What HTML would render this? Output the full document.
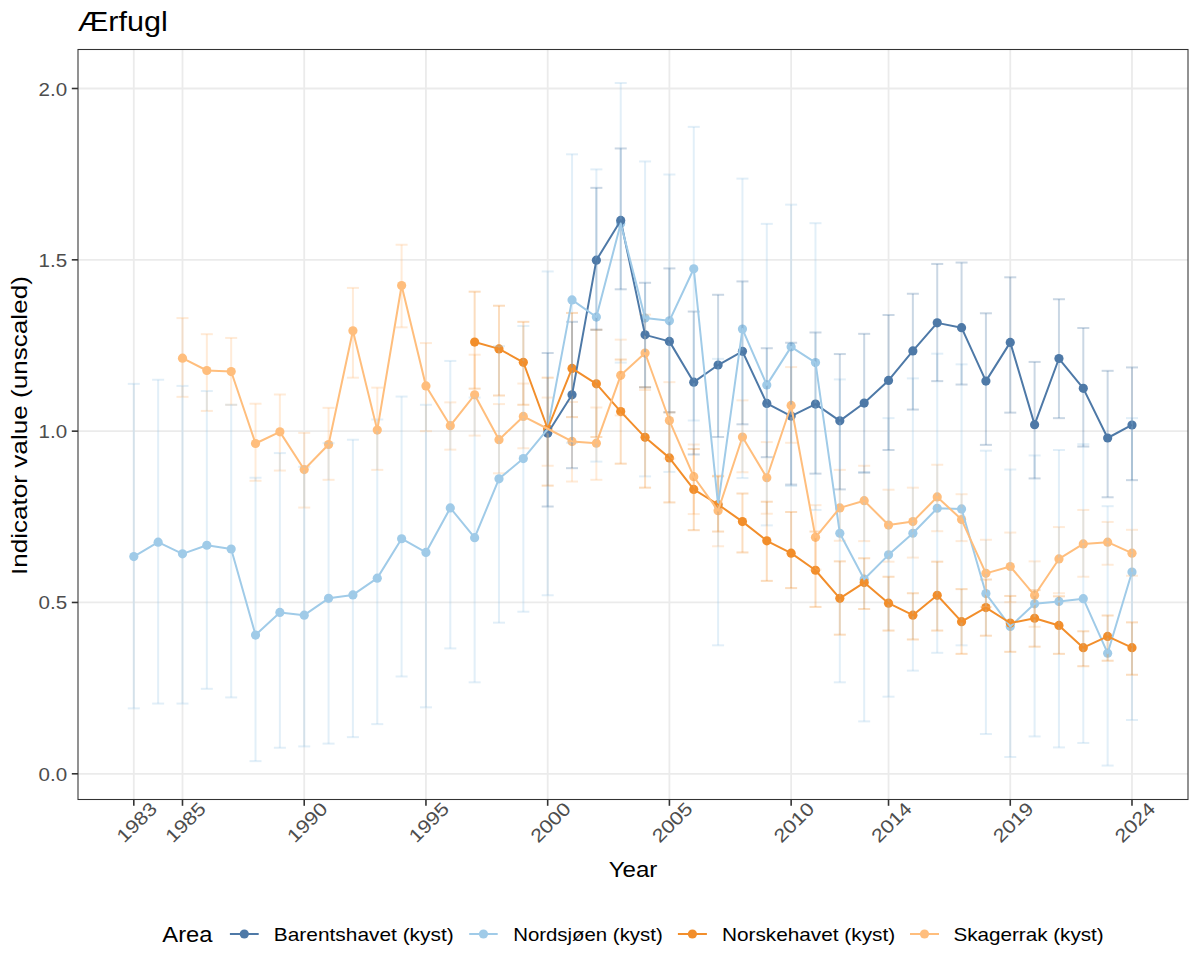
<!DOCTYPE html>
<html><head><meta charset="utf-8"><title>Ærfugl</title>
<style>
html,body{margin:0;padding:0;background:#fff;}
body{width:1200px;height:975px;overflow:hidden;}
svg{display:block;font-family:"Liberation Sans",sans-serif;}
</style></head><body>
<svg width="1200" height="975" viewBox="0 0 1200 975">
<rect x="0" y="0" width="1200" height="975" fill="#fff"/>
<g stroke="#EBEBEB" stroke-width="1.8" fill="none">
<line x1="78" y1="773.8" x2="1188" y2="773.8"/>
<line x1="78" y1="602.47" x2="1188" y2="602.47"/>
<line x1="78" y1="431.15" x2="1188" y2="431.15"/>
<line x1="78" y1="259.83" x2="1188" y2="259.83"/>
<line x1="78" y1="88.5" x2="1188" y2="88.5"/>
<line x1="133.8" y1="49.5" x2="133.8" y2="799.5"/>
<line x1="182.49" y1="49.5" x2="182.49" y2="799.5"/>
<line x1="304.22" y1="49.5" x2="304.22" y2="799.5"/>
<line x1="425.95" y1="49.5" x2="425.95" y2="799.5"/>
<line x1="547.68" y1="49.5" x2="547.68" y2="799.5"/>
<line x1="669.41" y1="49.5" x2="669.41" y2="799.5"/>
<line x1="791.14" y1="49.5" x2="791.14" y2="799.5"/>
<line x1="888.53" y1="49.5" x2="888.53" y2="799.5"/>
<line x1="1010.26" y1="49.5" x2="1010.26" y2="799.5"/>
<line x1="1131.99" y1="49.5" x2="1131.99" y2="799.5"/>
</g>
<g fill="#FFBE7D"><circle cx="182.49" cy="358.17" r="4.6"/><circle cx="206.84" cy="370.5" r="4.6"/><circle cx="231.18" cy="371.53" r="4.6"/><circle cx="255.53" cy="443.49" r="4.6"/><circle cx="279.88" cy="431.84" r="4.6"/><circle cx="304.22" cy="469.53" r="4.6"/><circle cx="328.57" cy="444.51" r="4.6"/><circle cx="352.91" cy="330.75" r="4.6"/><circle cx="377.26" cy="430.12" r="4.6"/><circle cx="401.61" cy="285.52" r="4.6"/><circle cx="425.95" cy="385.92" r="4.6"/><circle cx="450.3" cy="425.67" r="4.6"/><circle cx="474.64" cy="394.83" r="4.6"/><circle cx="498.99" cy="439.72" r="4.6"/><circle cx="523.34" cy="416.42" r="4.6"/><circle cx="547.68" cy="428.75" r="4.6"/><circle cx="572.03" cy="441.43" r="4.6"/><circle cx="596.37" cy="443.14" r="4.6"/><circle cx="620.72" cy="375.3" r="4.6"/><circle cx="645.07" cy="353.03" r="4.6"/><circle cx="669.41" cy="420.53" r="4.6"/><circle cx="693.76" cy="476.72" r="4.6"/><circle cx="718.1" cy="510.64" r="4.6"/><circle cx="742.45" cy="436.98" r="4.6"/><circle cx="766.8" cy="477.75" r="4.6"/><circle cx="791.14" cy="405.45" r="4.6"/><circle cx="815.49" cy="537.37" r="4.6"/><circle cx="839.83" cy="507.9" r="4.6"/><circle cx="864.18" cy="500.71" r="4.6"/><circle cx="888.53" cy="525.04" r="4.6"/><circle cx="912.87" cy="521.61" r="4.6"/><circle cx="937.22" cy="496.94" r="4.6"/><circle cx="961.56" cy="519.55" r="4.6"/><circle cx="985.91" cy="573.35" r="4.6"/><circle cx="1010.26" cy="566.5" r="4.6"/><circle cx="1034.6" cy="595.28" r="4.6"/><circle cx="1058.95" cy="558.96" r="4.6"/><circle cx="1083.29" cy="543.88" r="4.6"/><circle cx="1107.64" cy="542.17" r="4.6"/><circle cx="1131.99" cy="553.13" r="4.6"/></g>
<g fill="#A0CBE8"><circle cx="133.8" cy="556.56" r="4.6"/><circle cx="158.15" cy="542.17" r="4.6"/><circle cx="182.49" cy="553.82" r="4.6"/><circle cx="206.84" cy="545.25" r="4.6"/><circle cx="231.18" cy="549.02" r="4.6"/><circle cx="255.53" cy="635.03" r="4.6"/><circle cx="279.88" cy="612.41" r="4.6"/><circle cx="304.22" cy="615.15" r="4.6"/><circle cx="328.57" cy="598.36" r="4.6"/><circle cx="352.91" cy="594.94" r="4.6"/><circle cx="377.26" cy="578.15" r="4.6"/><circle cx="401.61" cy="538.74" r="4.6"/><circle cx="425.95" cy="552.45" r="4.6"/><circle cx="450.3" cy="507.9" r="4.6"/><circle cx="474.64" cy="537.71" r="4.6"/><circle cx="498.99" cy="478.78" r="4.6"/><circle cx="523.34" cy="458.56" r="4.6"/><circle cx="547.68" cy="429.09" r="4.6"/><circle cx="572.03" cy="299.92" r="4.6"/><circle cx="596.37" cy="317.05" r="4.6"/><circle cx="620.72" cy="223.5" r="4.6"/><circle cx="645.07" cy="318.08" r="4.6"/><circle cx="669.41" cy="320.82" r="4.6"/><circle cx="693.76" cy="268.73" r="4.6"/><circle cx="718.1" cy="504.82" r="4.6"/><circle cx="742.45" cy="329.04" r="4.6"/><circle cx="766.8" cy="384.89" r="4.6"/><circle cx="791.14" cy="346.86" r="4.6"/><circle cx="815.49" cy="362.62" r="4.6"/><circle cx="839.83" cy="533.26" r="4.6"/><circle cx="864.18" cy="579.17" r="4.6"/><circle cx="888.53" cy="554.85" r="4.6"/><circle cx="912.87" cy="533.26" r="4.6"/><circle cx="937.22" cy="508.25" r="4.6"/><circle cx="961.56" cy="508.93" r="4.6"/><circle cx="985.91" cy="593.57" r="4.6"/><circle cx="1010.26" cy="626.46" r="4.6"/><circle cx="1034.6" cy="603.85" r="4.6"/><circle cx="1058.95" cy="601.45" r="4.6"/><circle cx="1083.29" cy="598.71" r="4.6"/><circle cx="1107.64" cy="653.19" r="4.6"/><circle cx="1131.99" cy="571.98" r="4.6"/></g>
<g fill="#F28E2B"><circle cx="474.64" cy="342.06" r="4.6"/><circle cx="498.99" cy="348.91" r="4.6"/><circle cx="523.34" cy="362.28" r="4.6"/><circle cx="547.68" cy="428.75" r="4.6"/><circle cx="572.03" cy="368.45" r="4.6"/><circle cx="596.37" cy="383.86" r="4.6"/><circle cx="620.72" cy="411.62" r="4.6"/><circle cx="645.07" cy="437.32" r="4.6"/><circle cx="669.41" cy="457.88" r="4.6"/><circle cx="693.76" cy="489.4" r="4.6"/><circle cx="718.1" cy="504.48" r="4.6"/><circle cx="742.45" cy="521.61" r="4.6"/><circle cx="766.8" cy="540.8" r="4.6"/><circle cx="791.14" cy="553.13" r="4.6"/><circle cx="815.49" cy="570.27" r="4.6"/><circle cx="839.83" cy="598.36" r="4.6"/><circle cx="864.18" cy="582.6" r="4.6"/><circle cx="888.53" cy="603.16" r="4.6"/><circle cx="912.87" cy="615.15" r="4.6"/><circle cx="937.22" cy="595.28" r="4.6"/><circle cx="961.56" cy="621.66" r="4.6"/><circle cx="985.91" cy="607.61" r="4.6"/><circle cx="1010.26" cy="623.03" r="4.6"/><circle cx="1034.6" cy="618.24" r="4.6"/><circle cx="1058.95" cy="625.43" r="4.6"/><circle cx="1083.29" cy="647.7" r="4.6"/><circle cx="1107.64" cy="636.4" r="4.6"/><circle cx="1131.99" cy="647.7" r="4.6"/></g>
<g fill="#4E79A7"><circle cx="547.68" cy="433.21" r="4.6"/><circle cx="572.03" cy="394.83" r="4.6"/><circle cx="596.37" cy="260.17" r="4.6"/><circle cx="620.72" cy="220.42" r="4.6"/><circle cx="645.07" cy="334.87" r="4.6"/><circle cx="669.41" cy="341.38" r="4.6"/><circle cx="693.76" cy="382.15" r="4.6"/><circle cx="718.1" cy="365.02" r="4.6"/><circle cx="742.45" cy="351.31" r="4.6"/><circle cx="766.8" cy="403.4" r="4.6"/><circle cx="791.14" cy="416.07" r="4.6"/><circle cx="815.49" cy="404.08" r="4.6"/><circle cx="839.83" cy="420.87" r="4.6"/><circle cx="864.18" cy="403.05" r="4.6"/><circle cx="888.53" cy="380.44" r="4.6"/><circle cx="912.87" cy="350.97" r="4.6"/><circle cx="937.22" cy="322.87" r="4.6"/><circle cx="961.56" cy="327.67" r="4.6"/><circle cx="985.91" cy="381.12" r="4.6"/><circle cx="1010.26" cy="342.4" r="4.6"/><circle cx="1034.6" cy="424.64" r="4.6"/><circle cx="1058.95" cy="358.51" r="4.6"/><circle cx="1083.29" cy="388.32" r="4.6"/><circle cx="1107.64" cy="438" r="4.6"/><circle cx="1131.99" cy="424.98" r="4.6"/></g>
<g stroke="#FFBE7D" stroke-opacity="0.3" stroke-width="2.0" fill="none">
<line x1="176.49" y1="318.08" x2="188.49" y2="318.08"/><line x1="182.49" y1="318.08" x2="182.49" y2="396.88"/><line x1="176.49" y1="396.88" x2="188.49" y2="396.88"/>
<line x1="200.84" y1="334.18" x2="212.84" y2="334.18"/><line x1="206.84" y1="334.18" x2="206.84" y2="410.93"/><line x1="200.84" y1="410.93" x2="212.84" y2="410.93"/>
<line x1="225.18" y1="337.95" x2="237.18" y2="337.95"/><line x1="231.18" y1="337.95" x2="231.18" y2="404.77"/><line x1="225.18" y1="404.77" x2="237.18" y2="404.77"/>
<line x1="249.53" y1="403.74" x2="261.53" y2="403.74"/><line x1="255.53" y1="403.74" x2="255.53" y2="480.83"/><line x1="249.53" y1="480.83" x2="261.53" y2="480.83"/>
<line x1="273.88" y1="394.49" x2="285.88" y2="394.49"/><line x1="279.88" y1="394.49" x2="279.88" y2="470.55"/><line x1="273.88" y1="470.55" x2="285.88" y2="470.55"/>
<line x1="298.22" y1="432.86" x2="310.22" y2="432.86"/><line x1="304.22" y1="432.86" x2="304.22" y2="507.56"/><line x1="298.22" y1="507.56" x2="310.22" y2="507.56"/>
<line x1="322.57" y1="407.85" x2="334.57" y2="407.85"/><line x1="328.57" y1="407.85" x2="328.57" y2="479.81"/><line x1="322.57" y1="479.81" x2="334.57" y2="479.81"/>
<line x1="346.91" y1="287.92" x2="358.91" y2="287.92"/><line x1="352.91" y1="287.92" x2="352.91" y2="377.7"/><line x1="346.91" y1="377.7" x2="358.91" y2="377.7"/>
<line x1="371.26" y1="387.63" x2="383.26" y2="387.63"/><line x1="377.26" y1="387.63" x2="377.26" y2="469.87"/><line x1="371.26" y1="469.87" x2="383.26" y2="469.87"/>
<line x1="395.61" y1="244.75" x2="407.61" y2="244.75"/><line x1="401.61" y1="244.75" x2="401.61" y2="327.33"/><line x1="395.61" y1="327.33" x2="407.61" y2="327.33"/>
<line x1="419.95" y1="343.09" x2="431.95" y2="343.09"/><line x1="425.95" y1="343.09" x2="425.95" y2="431.15"/><line x1="419.95" y1="431.15" x2="431.95" y2="431.15"/>
<line x1="444.3" y1="402.37" x2="456.3" y2="402.37"/><line x1="450.3" y1="402.37" x2="450.3" y2="449.65"/><line x1="444.3" y1="449.65" x2="456.3" y2="449.65"/>
<line x1="468.64" y1="354.74" x2="480.64" y2="354.74"/><line x1="474.64" y1="354.74" x2="474.64" y2="435.6"/><line x1="468.64" y1="435.6" x2="480.64" y2="435.6"/>
<line x1="492.99" y1="404.08" x2="504.99" y2="404.08"/><line x1="498.99" y1="404.08" x2="498.99" y2="473.3"/><line x1="492.99" y1="473.3" x2="504.99" y2="473.3"/>
<line x1="517.34" y1="383.52" x2="529.34" y2="383.52"/><line x1="523.34" y1="383.52" x2="523.34" y2="448.28"/><line x1="517.34" y1="448.28" x2="529.34" y2="448.28"/>
<line x1="541.68" y1="397.57" x2="553.68" y2="397.57"/><line x1="547.68" y1="397.57" x2="547.68" y2="465.76"/><line x1="541.68" y1="465.76" x2="553.68" y2="465.76"/>
<line x1="566.03" y1="402.02" x2="578.03" y2="402.02"/><line x1="572.03" y1="402.02" x2="572.03" y2="481.52"/><line x1="566.03" y1="481.52" x2="578.03" y2="481.52"/>
<line x1="590.37" y1="407.51" x2="602.37" y2="407.51"/><line x1="596.37" y1="407.51" x2="596.37" y2="479.81"/><line x1="590.37" y1="479.81" x2="602.37" y2="479.81"/>
<line x1="614.72" y1="339.66" x2="626.72" y2="339.66"/><line x1="620.72" y1="339.66" x2="620.72" y2="415.39"/><line x1="614.72" y1="415.39" x2="626.72" y2="415.39"/>
<line x1="639.07" y1="314.65" x2="651.07" y2="314.65"/><line x1="645.07" y1="314.65" x2="645.07" y2="390.03"/><line x1="639.07" y1="390.03" x2="651.07" y2="390.03"/>
<line x1="663.41" y1="382.15" x2="675.41" y2="382.15"/><line x1="669.41" y1="382.15" x2="669.41" y2="458.56"/><line x1="663.41" y1="458.56" x2="675.41" y2="458.56"/>
<line x1="687.76" y1="444.51" x2="699.76" y2="444.51"/><line x1="693.76" y1="444.51" x2="693.76" y2="514.07"/><line x1="687.76" y1="514.07" x2="699.76" y2="514.07"/>
<line x1="712.1" y1="475.69" x2="724.1" y2="475.69"/><line x1="718.1" y1="475.69" x2="718.1" y2="546.28"/><line x1="712.1" y1="546.28" x2="724.1" y2="546.28"/>
<line x1="736.45" y1="400.31" x2="748.45" y2="400.31"/><line x1="742.45" y1="400.31" x2="742.45" y2="472.27"/><line x1="736.45" y1="472.27" x2="748.45" y2="472.27"/>
<line x1="760.8" y1="442.11" x2="772.8" y2="442.11"/><line x1="766.8" y1="442.11" x2="766.8" y2="513.73"/><line x1="760.8" y1="513.73" x2="772.8" y2="513.73"/>
<line x1="785.14" y1="367.07" x2="797.14" y2="367.07"/><line x1="791.14" y1="367.07" x2="791.14" y2="442.8"/><line x1="785.14" y1="442.8" x2="797.14" y2="442.8"/>
<line x1="809.49" y1="505.16" x2="821.49" y2="505.16"/><line x1="815.49" y1="505.16" x2="815.49" y2="569.58"/><line x1="809.49" y1="569.58" x2="821.49" y2="569.58"/>
<line x1="833.83" y1="469.87" x2="845.83" y2="469.87"/><line x1="839.83" y1="469.87" x2="839.83" y2="540.8"/><line x1="833.83" y1="540.8" x2="845.83" y2="540.8"/>
<line x1="858.18" y1="465.76" x2="870.18" y2="465.76"/><line x1="864.18" y1="465.76" x2="864.18" y2="541.14"/><line x1="858.18" y1="541.14" x2="870.18" y2="541.14"/>
<line x1="882.53" y1="489.74" x2="894.53" y2="489.74"/><line x1="888.53" y1="489.74" x2="888.53" y2="561.7"/><line x1="882.53" y1="561.7" x2="894.53" y2="561.7"/>
<line x1="906.87" y1="487.69" x2="918.87" y2="487.69"/><line x1="912.87" y1="487.69" x2="912.87" y2="557.59"/><line x1="906.87" y1="557.59" x2="918.87" y2="557.59"/>
<line x1="931.22" y1="464.73" x2="943.22" y2="464.73"/><line x1="937.22" y1="464.73" x2="937.22" y2="531.2"/><line x1="931.22" y1="531.2" x2="943.22" y2="531.2"/>
<line x1="955.56" y1="494.2" x2="967.56" y2="494.2"/><line x1="961.56" y1="494.2" x2="961.56" y2="541.14"/><line x1="955.56" y1="541.14" x2="967.56" y2="541.14"/>
<line x1="979.91" y1="539.77" x2="991.91" y2="539.77"/><line x1="985.91" y1="539.77" x2="985.91" y2="606.93"/><line x1="979.91" y1="606.93" x2="991.91" y2="606.93"/>
<line x1="1004.26" y1="532.57" x2="1016.26" y2="532.57"/><line x1="1010.26" y1="532.57" x2="1010.26" y2="602.13"/><line x1="1004.26" y1="602.13" x2="1016.26" y2="602.13"/>
<line x1="1028.6" y1="561.36" x2="1040.6" y2="561.36"/><line x1="1034.6" y1="561.36" x2="1034.6" y2="626.8"/><line x1="1028.6" y1="626.8" x2="1040.6" y2="626.8"/>
<line x1="1052.95" y1="527.09" x2="1064.95" y2="527.09"/><line x1="1058.95" y1="527.09" x2="1058.95" y2="593.22"/><line x1="1052.95" y1="593.22" x2="1064.95" y2="593.22"/>
<line x1="1077.29" y1="509.96" x2="1089.29" y2="509.96"/><line x1="1083.29" y1="509.96" x2="1083.29" y2="576.78"/><line x1="1077.29" y1="576.78" x2="1089.29" y2="576.78"/>
<line x1="1101.64" y1="521.95" x2="1113.64" y2="521.95"/><line x1="1107.64" y1="521.95" x2="1107.64" y2="564.78"/><line x1="1101.64" y1="564.78" x2="1113.64" y2="564.78"/>
<line x1="1125.99" y1="529.83" x2="1137.99" y2="529.83"/><line x1="1131.99" y1="529.83" x2="1131.99" y2="575.75"/><line x1="1125.99" y1="575.75" x2="1137.99" y2="575.75"/>
</g>
<g stroke="#A0CBE8" stroke-opacity="0.3" stroke-width="2.0" fill="none">
<line x1="127.8" y1="383.86" x2="139.8" y2="383.86"/><line x1="133.8" y1="383.86" x2="133.8" y2="708.35"/><line x1="127.8" y1="708.35" x2="139.8" y2="708.35"/>
<line x1="152.15" y1="379.75" x2="164.15" y2="379.75"/><line x1="158.15" y1="379.75" x2="158.15" y2="703.56"/><line x1="152.15" y1="703.56" x2="164.15" y2="703.56"/>
<line x1="176.49" y1="385.92" x2="188.49" y2="385.92"/><line x1="182.49" y1="385.92" x2="182.49" y2="703.56"/><line x1="176.49" y1="703.56" x2="188.49" y2="703.56"/>
<line x1="200.84" y1="391.06" x2="212.84" y2="391.06"/><line x1="206.84" y1="391.06" x2="206.84" y2="688.82"/><line x1="200.84" y1="688.82" x2="212.84" y2="688.82"/>
<line x1="225.18" y1="404.77" x2="237.18" y2="404.77"/><line x1="231.18" y1="404.77" x2="231.18" y2="697.39"/><line x1="225.18" y1="697.39" x2="237.18" y2="697.39"/>
<line x1="249.53" y1="477.75" x2="261.53" y2="477.75"/><line x1="255.53" y1="477.75" x2="255.53" y2="761.12"/><line x1="249.53" y1="761.12" x2="261.53" y2="761.12"/>
<line x1="273.88" y1="453.08" x2="285.88" y2="453.08"/><line x1="279.88" y1="453.08" x2="279.88" y2="747.76"/><line x1="273.88" y1="747.76" x2="285.88" y2="747.76"/>
<line x1="298.22" y1="466.79" x2="310.22" y2="466.79"/><line x1="304.22" y1="466.79" x2="304.22" y2="746.39"/><line x1="298.22" y1="746.39" x2="310.22" y2="746.39"/>
<line x1="322.57" y1="443.14" x2="334.57" y2="443.14"/><line x1="328.57" y1="443.14" x2="328.57" y2="743.65"/><line x1="322.57" y1="743.65" x2="334.57" y2="743.65"/>
<line x1="346.91" y1="439.72" x2="358.91" y2="439.72"/><line x1="352.91" y1="439.72" x2="352.91" y2="737.14"/><line x1="346.91" y1="737.14" x2="358.91" y2="737.14"/>
<line x1="371.26" y1="419.5" x2="383.26" y2="419.5"/><line x1="377.26" y1="419.5" x2="377.26" y2="724.12"/><line x1="371.26" y1="724.12" x2="383.26" y2="724.12"/>
<line x1="395.61" y1="396.54" x2="407.61" y2="396.54"/><line x1="401.61" y1="396.54" x2="401.61" y2="676.49"/><line x1="395.61" y1="676.49" x2="407.61" y2="676.49"/>
<line x1="419.95" y1="404.77" x2="431.95" y2="404.77"/><line x1="425.95" y1="404.77" x2="425.95" y2="707.33"/><line x1="419.95" y1="707.33" x2="431.95" y2="707.33"/>
<line x1="444.3" y1="360.91" x2="456.3" y2="360.91"/><line x1="450.3" y1="360.91" x2="450.3" y2="648.39"/><line x1="444.3" y1="648.39" x2="456.3" y2="648.39"/>
<line x1="468.64" y1="397.57" x2="480.64" y2="397.57"/><line x1="474.64" y1="397.57" x2="474.64" y2="682.31"/><line x1="468.64" y1="682.31" x2="480.64" y2="682.31"/>
<line x1="492.99" y1="346.17" x2="504.99" y2="346.17"/><line x1="498.99" y1="346.17" x2="498.99" y2="622.69"/><line x1="492.99" y1="622.69" x2="504.99" y2="622.69"/>
<line x1="517.34" y1="325.96" x2="529.34" y2="325.96"/><line x1="523.34" y1="325.96" x2="523.34" y2="611.73"/><line x1="517.34" y1="611.73" x2="529.34" y2="611.73"/>
<line x1="541.68" y1="271.48" x2="553.68" y2="271.48"/><line x1="547.68" y1="271.48" x2="547.68" y2="595.28"/><line x1="541.68" y1="595.28" x2="553.68" y2="595.28"/>
<line x1="566.03" y1="154.29" x2="578.03" y2="154.29"/><line x1="572.03" y1="154.29" x2="572.03" y2="442.8"/><line x1="566.03" y1="442.8" x2="578.03" y2="442.8"/>
<line x1="590.37" y1="169.37" x2="602.37" y2="169.37"/><line x1="596.37" y1="169.37" x2="596.37" y2="461.65"/><line x1="590.37" y1="461.65" x2="602.37" y2="461.65"/>
<line x1="614.72" y1="83.02" x2="626.72" y2="83.02"/><line x1="620.72" y1="83.02" x2="620.72" y2="362.62"/><line x1="614.72" y1="362.62" x2="626.72" y2="362.62"/>
<line x1="639.07" y1="161.48" x2="651.07" y2="161.48"/><line x1="645.07" y1="161.48" x2="645.07" y2="476.38"/><line x1="639.07" y1="476.38" x2="651.07" y2="476.38"/>
<line x1="663.41" y1="174.51" x2="675.41" y2="174.51"/><line x1="669.41" y1="174.51" x2="669.41" y2="471.93"/><line x1="663.41" y1="471.93" x2="675.41" y2="471.93"/>
<line x1="687.76" y1="126.88" x2="699.76" y2="126.88"/><line x1="693.76" y1="126.88" x2="693.76" y2="420.53"/><line x1="687.76" y1="420.53" x2="699.76" y2="420.53"/>
<line x1="712.1" y1="358.85" x2="724.1" y2="358.85"/><line x1="718.1" y1="358.85" x2="718.1" y2="645.31"/><line x1="712.1" y1="645.31" x2="724.1" y2="645.31"/>
<line x1="736.45" y1="178.62" x2="748.45" y2="178.62"/><line x1="742.45" y1="178.62" x2="742.45" y2="478.09"/><line x1="736.45" y1="478.09" x2="748.45" y2="478.09"/>
<line x1="760.8" y1="223.85" x2="772.8" y2="223.85"/><line x1="766.8" y1="223.85" x2="766.8" y2="525.38"/><line x1="760.8" y1="525.38" x2="772.8" y2="525.38"/>
<line x1="785.14" y1="204.66" x2="797.14" y2="204.66"/><line x1="791.14" y1="204.66" x2="791.14" y2="485.97"/><line x1="785.14" y1="485.97" x2="797.14" y2="485.97"/>
<line x1="809.49" y1="223.16" x2="821.49" y2="223.16"/><line x1="815.49" y1="223.16" x2="815.49" y2="509.96"/><line x1="809.49" y1="509.96" x2="821.49" y2="509.96"/>
<line x1="833.83" y1="379.41" x2="845.83" y2="379.41"/><line x1="839.83" y1="379.41" x2="839.83" y2="682.31"/><line x1="833.83" y1="682.31" x2="845.83" y2="682.31"/>
<line x1="858.18" y1="472.27" x2="870.18" y2="472.27"/><line x1="864.18" y1="472.27" x2="864.18" y2="721.37"/><line x1="858.18" y1="721.37" x2="870.18" y2="721.37"/>
<line x1="882.53" y1="418.13" x2="894.53" y2="418.13"/><line x1="888.53" y1="418.13" x2="888.53" y2="696.7"/><line x1="882.53" y1="696.7" x2="894.53" y2="696.7"/>
<line x1="906.87" y1="378.38" x2="918.87" y2="378.38"/><line x1="912.87" y1="378.38" x2="912.87" y2="670.66"/><line x1="906.87" y1="670.66" x2="918.87" y2="670.66"/>
<line x1="931.22" y1="353.71" x2="943.22" y2="353.71"/><line x1="937.22" y1="353.71" x2="937.22" y2="652.84"/><line x1="931.22" y1="652.84" x2="943.22" y2="652.84"/>
<line x1="955.56" y1="364.33" x2="967.56" y2="364.33"/><line x1="961.56" y1="364.33" x2="961.56" y2="645.31"/><line x1="955.56" y1="645.31" x2="967.56" y2="645.31"/>
<line x1="979.91" y1="450.68" x2="991.91" y2="450.68"/><line x1="985.91" y1="450.68" x2="985.91" y2="734.05"/><line x1="979.91" y1="734.05" x2="991.91" y2="734.05"/>
<line x1="1004.26" y1="469.53" x2="1016.26" y2="469.53"/><line x1="1010.26" y1="469.53" x2="1010.26" y2="757.01"/><line x1="1004.26" y1="757.01" x2="1016.26" y2="757.01"/>
<line x1="1028.6" y1="455.48" x2="1040.6" y2="455.48"/><line x1="1034.6" y1="455.48" x2="1034.6" y2="736.45"/><line x1="1028.6" y1="736.45" x2="1040.6" y2="736.45"/>
<line x1="1052.95" y1="450" x2="1064.95" y2="450"/><line x1="1058.95" y1="450" x2="1058.95" y2="747.42"/><line x1="1052.95" y1="747.42" x2="1064.95" y2="747.42"/>
<line x1="1077.29" y1="444.17" x2="1089.29" y2="444.17"/><line x1="1083.29" y1="444.17" x2="1083.29" y2="742.96"/><line x1="1077.29" y1="742.96" x2="1089.29" y2="742.96"/>
<line x1="1101.64" y1="506.19" x2="1113.64" y2="506.19"/><line x1="1107.64" y1="506.19" x2="1107.64" y2="765.58"/><line x1="1101.64" y1="765.58" x2="1113.64" y2="765.58"/>
<line x1="1125.99" y1="418.13" x2="1137.99" y2="418.13"/><line x1="1131.99" y1="418.13" x2="1131.99" y2="720"/><line x1="1125.99" y1="720" x2="1137.99" y2="720"/>
</g>
<g stroke="#F28E2B" stroke-opacity="0.3" stroke-width="2.0" fill="none">
<line x1="468.64" y1="291.69" x2="480.64" y2="291.69"/><line x1="474.64" y1="291.69" x2="474.64" y2="388.66"/><line x1="468.64" y1="388.66" x2="480.64" y2="388.66"/>
<line x1="492.99" y1="305.74" x2="504.99" y2="305.74"/><line x1="498.99" y1="305.74" x2="498.99" y2="395.51"/><line x1="492.99" y1="395.51" x2="504.99" y2="395.51"/>
<line x1="517.34" y1="321.84" x2="529.34" y2="321.84"/><line x1="523.34" y1="321.84" x2="523.34" y2="404.77"/><line x1="517.34" y1="404.77" x2="529.34" y2="404.77"/>
<line x1="541.68" y1="377.7" x2="553.68" y2="377.7"/><line x1="547.68" y1="377.7" x2="547.68" y2="485.63"/><line x1="541.68" y1="485.63" x2="553.68" y2="485.63"/>
<line x1="566.03" y1="312.94" x2="578.03" y2="312.94"/><line x1="572.03" y1="312.94" x2="572.03" y2="417.1"/><line x1="566.03" y1="417.1" x2="578.03" y2="417.1"/>
<line x1="590.37" y1="329.73" x2="602.37" y2="329.73"/><line x1="596.37" y1="329.73" x2="596.37" y2="436.98"/><line x1="590.37" y1="436.98" x2="602.37" y2="436.98"/>
<line x1="614.72" y1="359.54" x2="626.72" y2="359.54"/><line x1="620.72" y1="359.54" x2="620.72" y2="463.7"/><line x1="614.72" y1="463.7" x2="626.72" y2="463.7"/>
<line x1="639.07" y1="387.29" x2="651.07" y2="387.29"/><line x1="645.07" y1="387.29" x2="645.07" y2="487.69"/><line x1="639.07" y1="487.69" x2="651.07" y2="487.69"/>
<line x1="663.41" y1="412.3" x2="675.41" y2="412.3"/><line x1="669.41" y1="412.3" x2="669.41" y2="502.42"/><line x1="663.41" y1="502.42" x2="675.41" y2="502.42"/>
<line x1="687.76" y1="448.97" x2="699.76" y2="448.97"/><line x1="693.76" y1="448.97" x2="693.76" y2="530.18"/><line x1="687.76" y1="530.18" x2="699.76" y2="530.18"/>
<line x1="712.1" y1="476.38" x2="724.1" y2="476.38"/><line x1="718.1" y1="476.38" x2="718.1" y2="531.55"/><line x1="712.1" y1="531.55" x2="724.1" y2="531.55"/>
<line x1="736.45" y1="493.51" x2="748.45" y2="493.51"/><line x1="742.45" y1="493.51" x2="742.45" y2="552.45"/><line x1="736.45" y1="552.45" x2="748.45" y2="552.45"/>
<line x1="760.8" y1="501.74" x2="772.8" y2="501.74"/><line x1="766.8" y1="501.74" x2="766.8" y2="580.89"/><line x1="760.8" y1="580.89" x2="772.8" y2="580.89"/>
<line x1="785.14" y1="512.02" x2="797.14" y2="512.02"/><line x1="791.14" y1="512.02" x2="791.14" y2="588.08"/><line x1="785.14" y1="588.08" x2="797.14" y2="588.08"/>
<line x1="809.49" y1="531.55" x2="821.49" y2="531.55"/><line x1="815.49" y1="531.55" x2="815.49" y2="606.93"/><line x1="809.49" y1="606.93" x2="821.49" y2="606.93"/>
<line x1="833.83" y1="561.36" x2="845.83" y2="561.36"/><line x1="839.83" y1="561.36" x2="839.83" y2="634.68"/><line x1="833.83" y1="634.68" x2="845.83" y2="634.68"/>
<line x1="858.18" y1="558.27" x2="870.18" y2="558.27"/><line x1="864.18" y1="558.27" x2="864.18" y2="608.99"/><line x1="858.18" y1="608.99" x2="870.18" y2="608.99"/>
<line x1="882.53" y1="576.78" x2="894.53" y2="576.78"/><line x1="888.53" y1="576.78" x2="888.53" y2="630.57"/><line x1="882.53" y1="630.57" x2="894.53" y2="630.57"/>
<line x1="906.87" y1="593.22" x2="918.87" y2="593.22"/><line x1="912.87" y1="593.22" x2="912.87" y2="639.48"/><line x1="906.87" y1="639.48" x2="918.87" y2="639.48"/>
<line x1="931.22" y1="561.7" x2="943.22" y2="561.7"/><line x1="937.22" y1="561.7" x2="937.22" y2="630.57"/><line x1="931.22" y1="630.57" x2="943.22" y2="630.57"/>
<line x1="955.56" y1="589.11" x2="967.56" y2="589.11"/><line x1="961.56" y1="589.11" x2="961.56" y2="653.87"/><line x1="955.56" y1="653.87" x2="967.56" y2="653.87"/>
<line x1="979.91" y1="579.52" x2="991.91" y2="579.52"/><line x1="985.91" y1="579.52" x2="985.91" y2="635.71"/><line x1="979.91" y1="635.71" x2="991.91" y2="635.71"/>
<line x1="1004.26" y1="595.96" x2="1016.26" y2="595.96"/><line x1="1010.26" y1="595.96" x2="1010.26" y2="651.82"/><line x1="1004.26" y1="651.82" x2="1016.26" y2="651.82"/>
<line x1="1028.6" y1="590.14" x2="1040.6" y2="590.14"/><line x1="1034.6" y1="590.14" x2="1034.6" y2="646.68"/><line x1="1028.6" y1="646.68" x2="1040.6" y2="646.68"/>
<line x1="1052.95" y1="596.31" x2="1064.95" y2="596.31"/><line x1="1058.95" y1="596.31" x2="1058.95" y2="653.87"/><line x1="1052.95" y1="653.87" x2="1064.95" y2="653.87"/>
<line x1="1077.29" y1="631.26" x2="1089.29" y2="631.26"/><line x1="1083.29" y1="631.26" x2="1083.29" y2="666.21"/><line x1="1077.29" y1="666.21" x2="1089.29" y2="666.21"/>
<line x1="1101.64" y1="615.5" x2="1113.64" y2="615.5"/><line x1="1107.64" y1="615.5" x2="1107.64" y2="660.73"/><line x1="1101.64" y1="660.73" x2="1113.64" y2="660.73"/>
<line x1="1125.99" y1="622.35" x2="1137.99" y2="622.35"/><line x1="1131.99" y1="622.35" x2="1131.99" y2="674.77"/><line x1="1125.99" y1="674.77" x2="1137.99" y2="674.77"/>
</g>
<g stroke="#4E79A7" stroke-opacity="0.3" stroke-width="2.0" fill="none">
<line x1="541.68" y1="353.03" x2="553.68" y2="353.03"/><line x1="547.68" y1="353.03" x2="547.68" y2="506.53"/><line x1="541.68" y1="506.53" x2="553.68" y2="506.53"/>
<line x1="566.03" y1="321.84" x2="578.03" y2="321.84"/><line x1="572.03" y1="321.84" x2="572.03" y2="468.16"/><line x1="566.03" y1="468.16" x2="578.03" y2="468.16"/>
<line x1="590.37" y1="187.87" x2="602.37" y2="187.87"/><line x1="596.37" y1="187.87" x2="596.37" y2="329.73"/><line x1="590.37" y1="329.73" x2="602.37" y2="329.73"/>
<line x1="614.72" y1="148.46" x2="626.72" y2="148.46"/><line x1="620.72" y1="148.46" x2="620.72" y2="289.29"/><line x1="614.72" y1="289.29" x2="626.72" y2="289.29"/>
<line x1="639.07" y1="282.78" x2="651.07" y2="282.78"/><line x1="645.07" y1="282.78" x2="645.07" y2="387.29"/><line x1="639.07" y1="387.29" x2="651.07" y2="387.29"/>
<line x1="663.41" y1="268.39" x2="675.41" y2="268.39"/><line x1="669.41" y1="268.39" x2="669.41" y2="412.3"/><line x1="663.41" y1="412.3" x2="675.41" y2="412.3"/>
<line x1="687.76" y1="311.57" x2="699.76" y2="311.57"/><line x1="693.76" y1="311.57" x2="693.76" y2="454.45"/><line x1="687.76" y1="454.45" x2="699.76" y2="454.45"/>
<line x1="712.1" y1="294.78" x2="724.1" y2="294.78"/><line x1="718.1" y1="294.78" x2="718.1" y2="436.98"/><line x1="712.1" y1="436.98" x2="724.1" y2="436.98"/>
<line x1="736.45" y1="281.41" x2="748.45" y2="281.41"/><line x1="742.45" y1="281.41" x2="742.45" y2="424.3"/><line x1="736.45" y1="424.3" x2="748.45" y2="424.3"/>
<line x1="760.8" y1="348.23" x2="772.8" y2="348.23"/><line x1="766.8" y1="348.23" x2="766.8" y2="457.19"/><line x1="760.8" y1="457.19" x2="772.8" y2="457.19"/>
<line x1="785.14" y1="342.75" x2="797.14" y2="342.75"/><line x1="791.14" y1="342.75" x2="791.14" y2="484.6"/><line x1="785.14" y1="484.6" x2="797.14" y2="484.6"/>
<line x1="809.49" y1="332.47" x2="821.49" y2="332.47"/><line x1="815.49" y1="332.47" x2="815.49" y2="473.64"/><line x1="809.49" y1="473.64" x2="821.49" y2="473.64"/>
<line x1="833.83" y1="354.05" x2="845.83" y2="354.05"/><line x1="839.83" y1="354.05" x2="839.83" y2="489.4"/><line x1="833.83" y1="489.4" x2="845.83" y2="489.4"/>
<line x1="858.18" y1="333.84" x2="870.18" y2="333.84"/><line x1="864.18" y1="333.84" x2="864.18" y2="472.61"/><line x1="858.18" y1="472.61" x2="870.18" y2="472.61"/>
<line x1="882.53" y1="314.99" x2="894.53" y2="314.99"/><line x1="888.53" y1="314.99" x2="888.53" y2="450"/><line x1="882.53" y1="450" x2="894.53" y2="450"/>
<line x1="906.87" y1="293.75" x2="918.87" y2="293.75"/><line x1="912.87" y1="293.75" x2="912.87" y2="409.56"/><line x1="906.87" y1="409.56" x2="918.87" y2="409.56"/>
<line x1="931.22" y1="263.94" x2="943.22" y2="263.94"/><line x1="937.22" y1="263.94" x2="937.22" y2="381.12"/><line x1="931.22" y1="381.12" x2="943.22" y2="381.12"/>
<line x1="955.56" y1="262.57" x2="967.56" y2="262.57"/><line x1="961.56" y1="262.57" x2="961.56" y2="384.55"/><line x1="955.56" y1="384.55" x2="967.56" y2="384.55"/>
<line x1="979.91" y1="313.28" x2="991.91" y2="313.28"/><line x1="985.91" y1="313.28" x2="985.91" y2="444.86"/><line x1="979.91" y1="444.86" x2="991.91" y2="444.86"/>
<line x1="1004.26" y1="277.3" x2="1016.26" y2="277.3"/><line x1="1010.26" y1="277.3" x2="1010.26" y2="412.65"/><line x1="1004.26" y1="412.65" x2="1016.26" y2="412.65"/>
<line x1="1028.6" y1="361.93" x2="1040.6" y2="361.93"/><line x1="1034.6" y1="361.93" x2="1034.6" y2="478.44"/><line x1="1028.6" y1="478.44" x2="1040.6" y2="478.44"/>
<line x1="1052.95" y1="299.23" x2="1064.95" y2="299.23"/><line x1="1058.95" y1="299.23" x2="1058.95" y2="418.13"/><line x1="1052.95" y1="418.13" x2="1064.95" y2="418.13"/>
<line x1="1077.29" y1="328.01" x2="1089.29" y2="328.01"/><line x1="1083.29" y1="328.01" x2="1083.29" y2="446.57"/><line x1="1077.29" y1="446.57" x2="1089.29" y2="446.57"/>
<line x1="1101.64" y1="370.84" x2="1113.64" y2="370.84"/><line x1="1107.64" y1="370.84" x2="1107.64" y2="497.28"/><line x1="1101.64" y1="497.28" x2="1113.64" y2="497.28"/>
<line x1="1125.99" y1="367.42" x2="1137.99" y2="367.42"/><line x1="1131.99" y1="367.42" x2="1131.99" y2="480.15"/><line x1="1125.99" y1="480.15" x2="1137.99" y2="480.15"/>
</g>
<polyline points="547.68,433.21 572.03,394.83 596.37,260.17 620.72,220.42 645.07,334.87 669.41,341.38 693.76,382.15 718.1,365.02 742.45,351.31 766.8,403.4 791.14,416.07 815.49,404.08 839.83,420.87 864.18,403.05 888.53,380.44 912.87,350.97 937.22,322.87 961.56,327.67 985.91,381.12 1010.26,342.4 1034.6,424.64 1058.95,358.51 1083.29,388.32 1107.64,438 1131.99,424.98" fill="none" stroke="#4E79A7" stroke-width="2.0" stroke-linejoin="round" stroke-linecap="butt"/>
<polyline points="133.8,556.56 158.15,542.17 182.49,553.82 206.84,545.25 231.18,549.02 255.53,635.03 279.88,612.41 304.22,615.15 328.57,598.36 352.91,594.94 377.26,578.15 401.61,538.74 425.95,552.45 450.3,507.9 474.64,537.71 498.99,478.78 523.34,458.56 547.68,429.09 572.03,299.92 596.37,317.05 620.72,223.5 645.07,318.08 669.41,320.82 693.76,268.73 718.1,504.82 742.45,329.04 766.8,384.89 791.14,346.86 815.49,362.62 839.83,533.26 864.18,579.17 888.53,554.85 912.87,533.26 937.22,508.25 961.56,508.93 985.91,593.57 1010.26,626.46 1034.6,603.85 1058.95,601.45 1083.29,598.71 1107.64,653.19 1131.99,571.98" fill="none" stroke="#A0CBE8" stroke-width="2.0" stroke-linejoin="round" stroke-linecap="butt"/>
<polyline points="474.64,342.06 498.99,348.91 523.34,362.28 547.68,428.75 572.03,368.45 596.37,383.86 620.72,411.62 645.07,437.32 669.41,457.88 693.76,489.4 718.1,504.48 742.45,521.61 766.8,540.8 791.14,553.13 815.49,570.27 839.83,598.36 864.18,582.6 888.53,603.16 912.87,615.15 937.22,595.28 961.56,621.66 985.91,607.61 1010.26,623.03 1034.6,618.24 1058.95,625.43 1083.29,647.7 1107.64,636.4 1131.99,647.7" fill="none" stroke="#F28E2B" stroke-width="2.0" stroke-linejoin="round" stroke-linecap="butt"/>
<polyline points="182.49,358.17 206.84,370.5 231.18,371.53 255.53,443.49 279.88,431.84 304.22,469.53 328.57,444.51 352.91,330.75 377.26,430.12 401.61,285.52 425.95,385.92 450.3,425.67 474.64,394.83 498.99,439.72 523.34,416.42 547.68,428.75 572.03,441.43 596.37,443.14 620.72,375.3 645.07,353.03 669.41,420.53 693.76,476.72 718.1,510.64 742.45,436.98 766.8,477.75 791.14,405.45 815.49,537.37 839.83,507.9 864.18,500.71 888.53,525.04 912.87,521.61 937.22,496.94 961.56,519.55 985.91,573.35 1010.26,566.5 1034.6,595.28 1058.95,558.96 1083.29,543.88 1107.64,542.17 1131.99,553.13" fill="none" stroke="#FFBE7D" stroke-width="2.0" stroke-linejoin="round" stroke-linecap="butt"/>
<rect x="78" y="49.5" width="1110" height="750" fill="none" stroke="#333333" stroke-width="1.07"/>
<g stroke="#333333" stroke-width="1.6">
<line x1="71.8" y1="773.8" x2="78" y2="773.8"/>
<line x1="71.8" y1="602.47" x2="78" y2="602.47"/>
<line x1="71.8" y1="431.15" x2="78" y2="431.15"/>
<line x1="71.8" y1="259.83" x2="78" y2="259.83"/>
<line x1="71.8" y1="88.5" x2="78" y2="88.5"/>
<line x1="133.8" y1="799.5" x2="133.8" y2="805.8" />
<line x1="182.49" y1="799.5" x2="182.49" y2="805.8" />
<line x1="304.22" y1="799.5" x2="304.22" y2="805.8" />
<line x1="425.95" y1="799.5" x2="425.95" y2="805.8" />
<line x1="547.68" y1="799.5" x2="547.68" y2="805.8" />
<line x1="669.41" y1="799.5" x2="669.41" y2="805.8" />
<line x1="791.14" y1="799.5" x2="791.14" y2="805.8" />
<line x1="888.53" y1="799.5" x2="888.53" y2="805.8" />
<line x1="1010.26" y1="799.5" x2="1010.26" y2="805.8" />
<line x1="1131.99" y1="799.5" x2="1131.99" y2="805.8" />
</g>
<g fill="#4D4D4D" font-size="18.6" text-anchor="end">
<text x="67.2" y="780.8" textLength="28.6" lengthAdjust="spacingAndGlyphs">0.0</text>
<text x="67.2" y="609.47" textLength="28.6" lengthAdjust="spacingAndGlyphs">0.5</text>
<text x="67.2" y="438.15" textLength="28.6" lengthAdjust="spacingAndGlyphs">1.0</text>
<text x="67.2" y="266.83" textLength="28.6" lengthAdjust="spacingAndGlyphs">1.5</text>
<text x="67.2" y="95.5" textLength="28.6" lengthAdjust="spacingAndGlyphs">2.0</text>
</g>
<g fill="#4D4D4D" font-size="18.6" text-anchor="end">
<text transform="translate(158.2,809.9) rotate(-45)" x="0" y="0" textLength="48" lengthAdjust="spacingAndGlyphs">1983</text>
<text transform="translate(206.89,809.9) rotate(-45)" x="0" y="0" textLength="48" lengthAdjust="spacingAndGlyphs">1985</text>
<text transform="translate(328.62,809.9) rotate(-45)" x="0" y="0" textLength="48" lengthAdjust="spacingAndGlyphs">1990</text>
<text transform="translate(450.35,809.9) rotate(-45)" x="0" y="0" textLength="48" lengthAdjust="spacingAndGlyphs">1995</text>
<text transform="translate(572.08,809.9) rotate(-45)" x="0" y="0" textLength="48" lengthAdjust="spacingAndGlyphs">2000</text>
<text transform="translate(693.81,809.9) rotate(-45)" x="0" y="0" textLength="48" lengthAdjust="spacingAndGlyphs">2005</text>
<text transform="translate(815.54,809.9) rotate(-45)" x="0" y="0" textLength="48" lengthAdjust="spacingAndGlyphs">2010</text>
<text transform="translate(912.93,809.9) rotate(-45)" x="0" y="0" textLength="48" lengthAdjust="spacingAndGlyphs">2014</text>
<text transform="translate(1034.66,809.9) rotate(-45)" x="0" y="0" textLength="48" lengthAdjust="spacingAndGlyphs">2019</text>
<text transform="translate(1156.39,809.9) rotate(-45)" x="0" y="0" textLength="48" lengthAdjust="spacingAndGlyphs">2024</text>
</g>
<text x="633" y="876.9" font-size="22.2" text-anchor="middle" fill="#000" textLength="48.7" lengthAdjust="spacingAndGlyphs">Year</text>
<text transform="translate(26.9,425.6) rotate(-90)" x="0" y="0" font-size="22.2" text-anchor="middle" fill="#000" textLength="299" lengthAdjust="spacingAndGlyphs">Indicator value (unscaled)</text>
<text x="77.8" y="30.9" font-size="27.8" fill="#000" textLength="90" lengthAdjust="spacingAndGlyphs">Ærfugl</text>
<text x="162.3" y="941.85" font-size="22.2" fill="#000" textLength="50.2" lengthAdjust="spacingAndGlyphs">Area</text>
<line x1="229.9" y1="934" x2="258.7" y2="934" stroke="#4E79A7" stroke-width="2.0"/><circle cx="244.3" cy="934" r="4.6" fill="#4E79A7"/>
<text x="273.8" y="941" font-size="17.9" fill="#000" textLength="179.9" lengthAdjust="spacingAndGlyphs">Barentshavet (kyst)</text>
<line x1="469.2" y1="934" x2="497.7" y2="934" stroke="#A0CBE8" stroke-width="2.0"/><circle cx="483.45" cy="934" r="4.6" fill="#A0CBE8"/>
<text x="513.2" y="941" font-size="17.9" fill="#000" textLength="149.5" lengthAdjust="spacingAndGlyphs">Nordsjøen (kyst)</text>
<line x1="677.9" y1="934" x2="706.9" y2="934" stroke="#F28E2B" stroke-width="2.0"/><circle cx="692.4" cy="934" r="4.6" fill="#F28E2B"/>
<text x="721.9" y="941" font-size="17.9" fill="#000" textLength="173.3" lengthAdjust="spacingAndGlyphs">Norskehavet (kyst)</text>
<line x1="910" y1="934" x2="939" y2="934" stroke="#FFBE7D" stroke-width="2.0"/><circle cx="924.5" cy="934" r="4.6" fill="#FFBE7D"/>
<text x="953.4" y="941" font-size="17.9" fill="#000" textLength="150.3" lengthAdjust="spacingAndGlyphs">Skagerrak (kyst)</text>
</svg>
</body></html>
